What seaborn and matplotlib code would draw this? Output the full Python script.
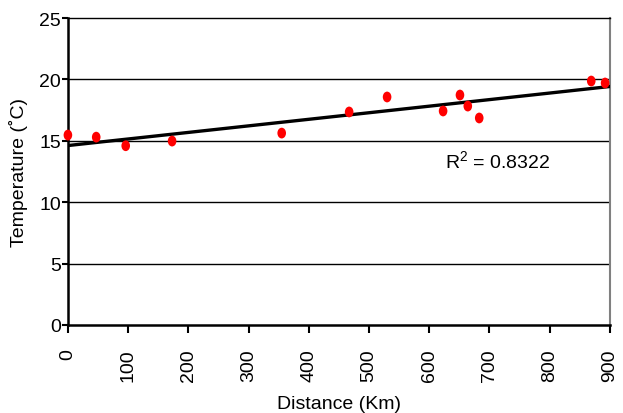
import matplotlib
matplotlib.use("Agg")
import matplotlib.pyplot as plt
from matplotlib.path import Path
from matplotlib.transforms import Affine2D
import seaborn as sns
import numpy as np
import pandas as pd

distance_km = [0, 47, 96, 173, 355, 467, 530, 623, 651, 664, 683, 869, 892]
temperature_c = [15.47, 15.3, 14.6, 14.98, 15.63, 17.35, 18.57, 17.43, 18.73, 17.83, 16.86, 19.87, 19.71]
r2_label = "R$^2$ = 0.8322"
x_ticks = [0, 100, 200, 300, 400, 500, 600, 700, 800, 900]
y_ticks = [0, 5, 10, 15, 20, 25]

sns.set_style("white")
plt.rcParams['font.family'] = ['Liberation Sans Narrow', 'Liberation Sans', 'DejaVu Sans']
plt.rcParams['mathtext.default'] = 'regular'
plt.rcParams['text.color'] = 'black'
plt.rcParams['axes.labelcolor'] = 'black'
plt.rcParams['xtick.color'] = 'black'
plt.rcParams['ytick.color'] = 'black'

df = pd.DataFrame({"Distance": distance_km, "Temperature": temperature_c})

ellipse = Path.unit_circle().transformed(Affine2D().scale(0.8, 1.0))

fig = plt.figure(figsize=(6.23, 4.14), dpi=100)
ax = fig.add_axes([0.109, 0.2126, 0.870, 0.7414])
ax.set_xlim(0, 900)
ax.set_ylim(0, 25)

sns.regplot(data=df, x="Distance", y="Temperature", ax=ax, ci=None, truncate=False,
            marker=ellipse,
            scatter_kws=dict(color="#ff0000", s=60, edgecolor="none", alpha=1, zorder=4, clip_on=False),
            line_kws=dict(color="black", linewidth=2.4, zorder=3))

ax.set_xlim(0, 900)
ax.set_ylim(0, 25)
ax.set_xticks(x_ticks)
ax.set_yticks(y_ticks)
ax.set_xticklabels([str(v) for v in x_ticks], rotation=90, fontsize=14)
ax.set_yticklabels([str(v) for v in y_ticks], fontsize=14)
for y in y_ticks[1:-1]:
    ax.axhline(y, color="black", linewidth=1.0, zorder=1)

for s in ["left", "bottom"]:
    ax.spines[s].set_color("black")
    ax.spines[s].set_linewidth(1.8)
ax.spines["right"].set_color("#808080")
ax.spines["right"].set_linewidth(1.5)
ax.spines["top"].set_color("black")
ax.spines["top"].set_linewidth(1.0)

ax.tick_params(axis="x", direction="out", length=6, width=1.5, colors="black", bottom=True, pad=11)
ax.tick_params(axis="y", direction="out", length=4, width=1.5, colors="black", left=True, pad=1)

ax.set_xlabel("Distance (Km)", fontsize=14, labelpad=10, color="black")
ax.set_ylabel("Temperature (˚C)", fontsize=14, labelpad=8, color="black")

ax.text(626, 13.4, r2_label, fontsize=14, ha="left", va="center", color="black")

fig.savefig("out.png", dpi=100)
